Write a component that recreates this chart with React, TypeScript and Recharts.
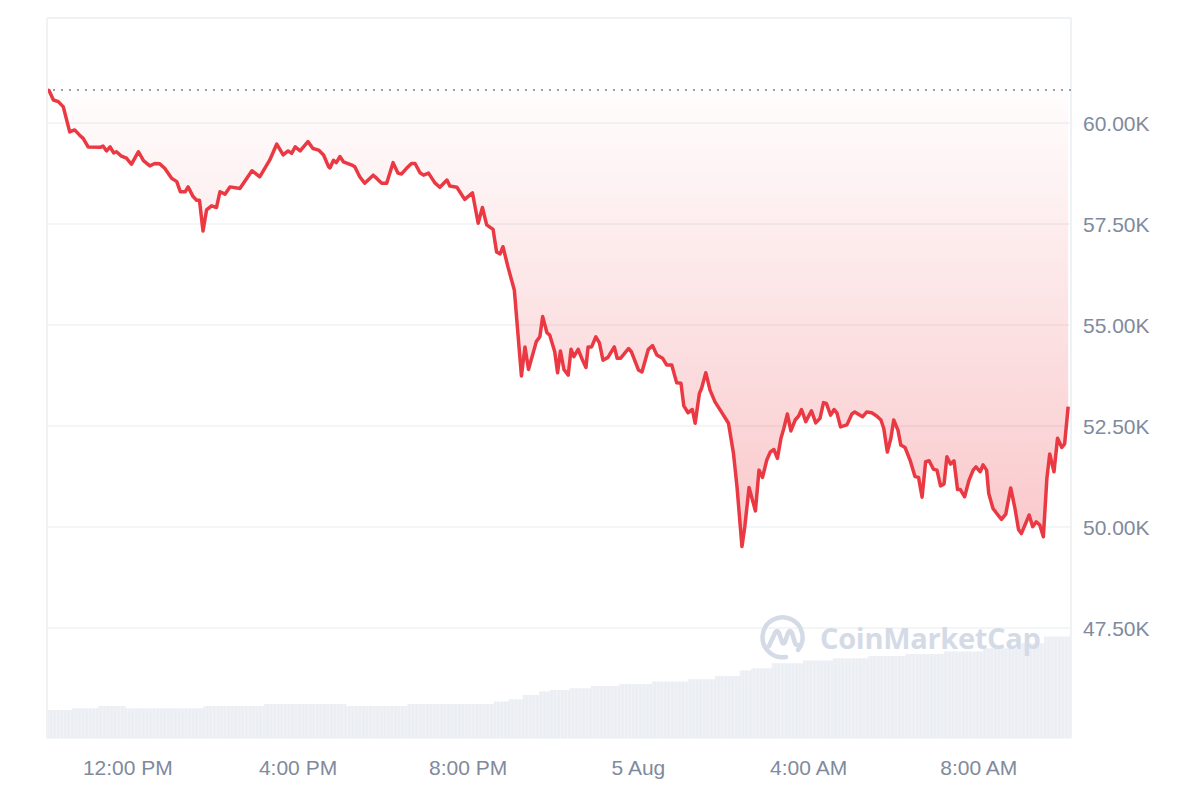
import React from "react";
import { ComposedChart, Area, XAxis, YAxis, CartesianGrid, ReferenceLine } from "recharts";

// minutes since 00:00 on 4 Aug
const times = [
  606, 609, 615, 622, 629, 638, 645, 652, 657, 664,
  681, 685, 690, 695, 700, 704, 711, 718, 725, 735,
  742, 751, 758, 765, 772, 782, 789, 794, 801, 805,
  812, 817, 821, 826, 831, 838, 845, 850, 857, 864,
  878, 895, 906, 920, 930, 939, 946, 951, 956, 963,
  974, 981, 989, 996, 1003, 1005, 1010, 1014, 1019, 1024,
  1036, 1040, 1047, 1054, 1066, 1071, 1078, 1085, 1094, 1101,
  1106, 1113, 1120, 1125, 1132, 1137, 1144, 1153, 1160, 1170,
  1174, 1184, 1195, 1206, 1214, 1220, 1226, 1235, 1240, 1245,
  1249, 1256, 1265, 1275, 1280, 1285, 1296, 1301, 1305, 1311,
  1315, 1322, 1326, 1330, 1335, 1341, 1345, 1349, 1355, 1360,
  1366, 1369, 1374, 1380, 1385, 1390, 1397, 1406, 1410, 1415,
  1426, 1430, 1440, 1445, 1454, 1460, 1466, 1474, 1480, 1487,
  1494, 1500, 1504, 1510, 1516, 1520, 1526, 1529, 1535, 1541,
  1548, 1557, 1567, 1574, 1579, 1586, 1590, 1596, 1605, 1610,
  1615, 1621, 1626, 1631, 1636, 1641, 1645, 1650, 1655, 1661,
  1666, 1670, 1676, 1684, 1690, 1696, 1701, 1705, 1711, 1716,
  1720, 1725, 1734, 1741, 1745, 1756, 1762, 1769, 1776, 1782,
  1786, 1791, 1796, 1800, 1806, 1810, 1816, 1823, 1830, 1835,
  1840, 1845, 1850, 1856, 1861, 1866, 1871, 1875, 1880, 1885,
  1890, 1894, 1900, 1906, 1912, 1916, 1922, 1926, 1931, 1934,
  1940, 1947, 1952, 1958, 1965, 1971, 1976, 1980, 1985, 1991,
  1996, 2001, 2006, 2011, 2016, 2020, 2026, 2031, 2037, 2041,
  2046,
];

// price in thousands USD
const prices = [
  60.82, 60.8, 60.57, 60.53, 60.4, 59.78, 59.83, 59.7, 59.62, 59.41,
  59.4, 59.43, 59.31, 59.41, 59.26, 59.29, 59.18, 59.13, 58.98, 59.29,
  59.07, 58.94, 59.0, 58.99, 58.88, 58.63, 58.55, 58.3, 58.3, 58.42,
  58.18, 58.09, 58.09, 57.33, 57.85, 57.95, 57.91, 58.3, 58.24, 58.42,
  58.38, 58.82, 58.67, 59.08, 59.48, 59.21, 59.31, 59.25, 59.41, 59.31,
  59.54, 59.37, 59.33, 59.21, 58.92, 58.89, 59.08, 59.02, 59.17, 59.04,
  58.96, 58.92, 58.67, 58.51, 58.71, 58.63, 58.51, 58.51, 59.02, 58.76,
  58.74, 58.88, 59.0, 59.0, 58.77, 58.71, 58.76, 58.52, 58.41, 58.59,
  58.44, 58.41, 58.11, 58.27, 57.52, 57.91, 57.48, 57.37, 56.81, 56.76,
  56.94, 56.44, 55.87, 53.74, 54.46, 53.9, 54.59, 54.71, 55.21, 54.81,
  54.75, 54.34, 53.82, 54.36, 53.9, 53.76, 54.4, 54.22, 54.4, 54.18,
  53.95, 54.46, 54.46, 54.71, 54.56, 54.13, 54.2, 54.46, 54.18, 54.18,
  54.42, 54.34, 53.89, 53.84, 54.4, 54.49, 54.26, 54.18, 54.01, 54.01,
  53.57, 53.56, 53.0, 52.83, 52.91, 52.57, 53.31, 53.43, 53.82, 53.39,
  53.1, 52.85, 52.57, 51.83, 51.0, 49.52, 50.01, 50.98, 50.4, 51.41,
  51.23, 51.66, 51.86, 51.92, 51.7, 52.2, 52.44, 52.8, 52.38, 52.65,
  52.75, 52.91, 52.61, 52.88, 52.58, 52.69, 53.08, 53.06, 52.77, 52.91,
  52.82, 52.48, 52.53, 52.8, 52.85, 52.73, 52.85, 52.83, 52.75, 52.65,
  52.44, 51.86, 52.2, 52.65, 52.4, 52.03, 51.97, 51.66, 51.25, 51.23,
  50.74, 51.62, 51.64, 51.43, 51.41, 51.02, 51.07, 51.74, 51.56, 51.64,
  50.93, 50.93, 50.75, 51.15, 51.41, 51.49, 51.37, 51.54, 51.41, 50.83,
  50.46, 50.3, 50.19, 50.32, 50.97, 50.46, 49.94, 49.84, 50.05, 50.3,
  50.01, 50.13, 50.05, 49.76, 51.21, 51.81, 51.37, 52.2, 51.97, 52.06,
  52.98,
];

// volume steps (billions USD)
const volTimes = [606, 641, 678, 717, 827, 912, 1028, 1114, 1236, 1257, 1277, 1300, 1315, 1343, 1373, 1413, 1459, 1510, 1548, 1583, 1599, 1628, 1672, 1714, 1764, 1817, 1871, 1926, 1979, 2012, 2050];
const volumes = [14.0, 14.9, 16.0, 14.9, 16.0, 17.0, 16.0, 17.0, 18.2, 19.4, 21.5, 23.2, 24.0, 24.9, 26.0, 27.0, 28.2, 29.4, 31.0, 33.7, 34.9, 37.4, 38.7, 39.9, 41.0, 42.0, 43.2, 44.9, 47.4, 50.7, 50.7];

const xTicks = [720, 960, 1200, 1440, 1680, 1920];
const xLabels = ["12:00 PM", "4:00 PM", "8:00 PM", "5 Aug", "4:00 AM", "8:00 AM"];
const yTicks = [47.5, 50, 52.5, 55, 57.5, 60];

const RED = "#ea3943";
const GREY_TEXT = "#808a9d";
const GRID = "#eff2f5";

const priceData = times.map((t, i) => ({ t, price: prices[i] }));
const volData = volTimes.map((t, i) => ({ t, vol: volumes[i] }));

function Watermark() {
  return (
    <div style={{ position: "absolute", left: 758, top: 613, pointerEvents: "none", display: "flex", alignItems: "center" }}>
      <svg width="50" height="50" viewBox="0 0 50 50">
        <path d="M40 37 A20 20 0 1 0 28 44" fill="none" stroke="#d4dbe7" strokeWidth="4.5" strokeLinecap="round" />
        <path d="M11 33 L17 20 Q19 16 21 20 L24 29 Q25 32 27 29 L30 20 Q32 16 34 20 L37 30 Q38 33 41 32" fill="none" stroke="#d4dbe7" strokeWidth="4.5" strokeLinecap="round" strokeLinejoin="round" />
      </svg>
      <span style={{ marginLeft: 12, fontFamily: "'Open Sans', sans-serif", fontWeight: 700, fontSize: 29, color: "#d4dbe7", letterSpacing: -0.3, lineHeight: "50px" }}>
        CoinMarketCap
      </span>
    </div>
  );
}

export default function App() {
  return (
    <div style={{ position: "absolute", left: 0, top: 0, width: 1200, height: 800, background: "#fff", fontFamily: "'Liberation Sans', Arial, sans-serif" }}>
      <ComposedChart width={1200} height={800} data={priceData} margin={{ top: 18, right: 0, bottom: 0, left: 47 }}>
        <defs>
          <linearGradient id="priceFill" x1="0" y1="0" x2="0" y2="1">
            <stop offset="0%" stopColor={RED} stopOpacity={0.01} />
            <stop offset="100%" stopColor={RED} stopOpacity={0.28} />
          </linearGradient>
          <pattern id="volBars" width="3.55" height="10" patternUnits="userSpaceOnUse">
            <rect x="0" y="0" width="3.55" height="10" fill="#f3f5f8" />
            <rect x="0" y="0" width="2.8" height="10" fill="#ebeef3" />
          </pattern>
        </defs>
        <XAxis
          dataKey="t"
          type="number"
          domain={[606, 2050]}
          ticks={xTicks}
          tickFormatter={(v: number) => xLabels[xTicks.indexOf(v)]}
          axisLine={false}
          tickLine={false}
          height={62}
          tickMargin={16}
          tick={{ fill: GREY_TEXT, fontSize: 21 }}
          allowDataOverflow
        />
        <YAxis
          yAxisId="price"
          orientation="right"
          type="number"
          domain={[44.78, 62.6]}
          ticks={yTicks}
          tickFormatter={(v: number) => v.toFixed(2) + "K"}
          axisLine={false}
          tickLine={false}
          width={129}
          tickMargin={6}
          tick={{ fill: GREY_TEXT, fontSize: 21 }}
          allowDataOverflow
        />
        <YAxis yAxisId="vol" hide domain={[0, 360]} />
        <Area
          data={volData}
          yAxisId="vol"
          dataKey="vol"
          type="stepAfter"
          stroke="none"
          fill="url(#volBars)"
          fillOpacity={1}
          isAnimationActive={false}
        />
        <CartesianGrid yAxisId="price" horizontal vertical={false} stroke={GRID} strokeWidth={1.5} />
        <ReferenceLine yAxisId="price" x={606} stroke={GRID} strokeWidth={2} />
        <ReferenceLine yAxisId="price" x={2050} stroke={GRID} strokeWidth={2} />
        <ReferenceLine yAxisId="price" y={62.6} stroke={GRID} strokeWidth={2} />
        <Area
          yAxisId="price"
          dataKey="price"
          type="linear"
          baseValue={prices[0]}
          stroke={RED}
          strokeWidth={3.5}
          strokeLinejoin="round"
          fill="url(#priceFill)"
          fillOpacity={1}
          dot={false}
          activeDot={false}
          isAnimationActive={false}
        />
        <ReferenceLine yAxisId="price" y={prices[0]} stroke="#9aa0a8" strokeWidth={2} strokeDasharray="2 6" />
      </ComposedChart>
      <Watermark />
    </div>
  );
}
